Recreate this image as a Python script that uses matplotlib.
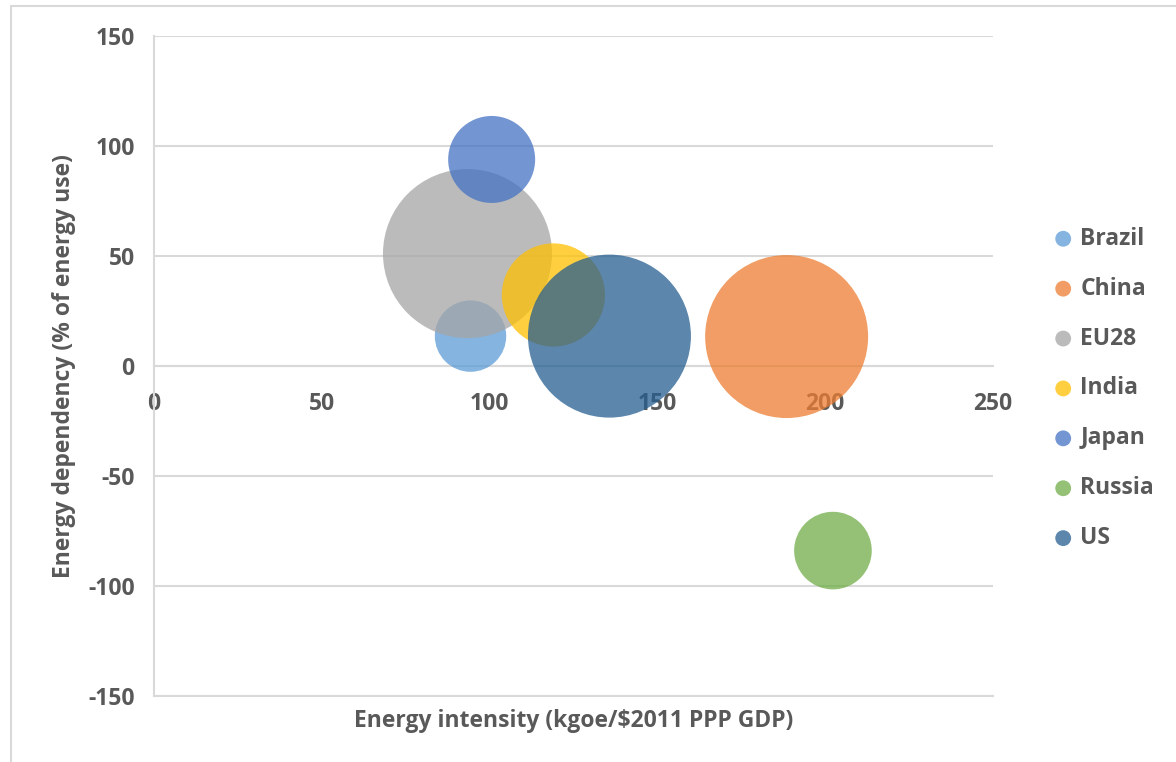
import matplotlib
matplotlib.use('Agg')
import matplotlib.pyplot as plt
import numpy as np
from matplotlib.patches import Rectangle

# Energy intensity vs energy dependency, bubble area = economy size
countries = ['Brazil', 'China', 'EU28', 'India', 'Japan', 'Russia', 'US']
intensity = [94.3, 188.5, 93.4, 119.0, 100.6, 202.3, 135.7]
dependency = [13.6, 13.4, 51.1, 32.3, 93.9, -83.9, 13.6]
bubble_size = [3.3, 17.2, 18.5, 6.9, 4.9, 3.9, 17.2]
colors = ['#5B9BD5', '#ED7D31', '#A5A5A5', '#FFC000', '#4472C4', '#70AD47', '#255E91']

x_ticks = [0, 50, 100, 150, 200, 250]
y_ticks = [-150, -100, -50, 0, 50, 100, 150]

plt.rcParams['font.family'] = ['Open Sans', 'DejaVu Sans']
text_color = '#595959'
grid_color = '#D9D9D9'
fs = 16.5

fig = plt.figure(figsize=(11.76, 7.62), dpi=100)
ax = fig.add_axes([0.131, 0.0866, 0.7134, 0.8661])

# largest bubble diameter in points; the rest scale by area
max_diam_pt = 121.7
sizes = np.array(bubble_size)
diam = np.sqrt(sizes / sizes.max()) * max_diam_pt

for i, name in enumerate(countries):
    ax.scatter(intensity[i], dependency[i], s=diam[i] ** 2, color=colors[i],
               alpha=0.75, edgecolors='none', label=name, zorder=3 + i)

ax.set_xlim(0, 250)
ax.set_ylim(-150, 150)

ax.grid(axis='y', color=grid_color, linewidth=1.5, zorder=0)
ax.set_axisbelow(True)
for side in ['top', 'right']:
    ax.spines[side].set_visible(False)
ax.spines['bottom'].set_position(('data', 0))
ax.spines['bottom'].set_color(grid_color)
ax.spines['bottom'].set_linewidth(1.5)
ax.spines['left'].set_color(grid_color)
ax.spines['left'].set_linewidth(1.5)
ax.axhline(-150, color=grid_color, linewidth=1.5, zorder=0, clip_on=False)

ax.set_xticks(x_ticks)
ax.set_yticks(y_ticks)
ax.set_xticklabels([str(t) for t in x_ticks], fontsize=fs, fontweight='bold', color=text_color)
ax.set_yticklabels([str(t) for t in y_ticks], fontsize=fs, fontweight='bold', color=text_color)
ax.tick_params(axis='both', length=0)
ax.tick_params(axis='x', pad=18.5)
ax.tick_params(axis='y', pad=14)

ax.set_xlabel('Energy intensity (kgoe/$2011 PPP GDP)', fontsize=fs, fontweight='bold',
              color=text_color, va='top')
ax.xaxis.set_label_coords(0.5, -0.019)
ax.set_ylabel('Energy dependency (% of energy use)', fontsize=fs, fontweight='bold',
              color=text_color)
ax.yaxis.set_label_coords(-0.093, 0.5)

leg = ax.legend(loc='upper left', bbox_to_anchor=(1.07, 0.711), frameon=False,
                fontsize=fs, labelspacing=1.13, handletextpad=0.25, borderaxespad=0,
                borderpad=0, handlelength=1.0)
for h in leg.legend_handles:
    h.set_sizes([130])
    h.set_alpha(0.75)
for t in leg.get_texts():
    t.set_color(text_color)
    t.set_fontweight('bold')

# chart-area border
fig.patches.append(Rectangle((11 / 1176, -0.01), 1.05, 1 - 6 / 762 + 0.01,
                             transform=fig.transFigure, fill=False,
                             edgecolor='#D9D9D9', linewidth=1.5))

fig.savefig('out.png', dpi=100)
